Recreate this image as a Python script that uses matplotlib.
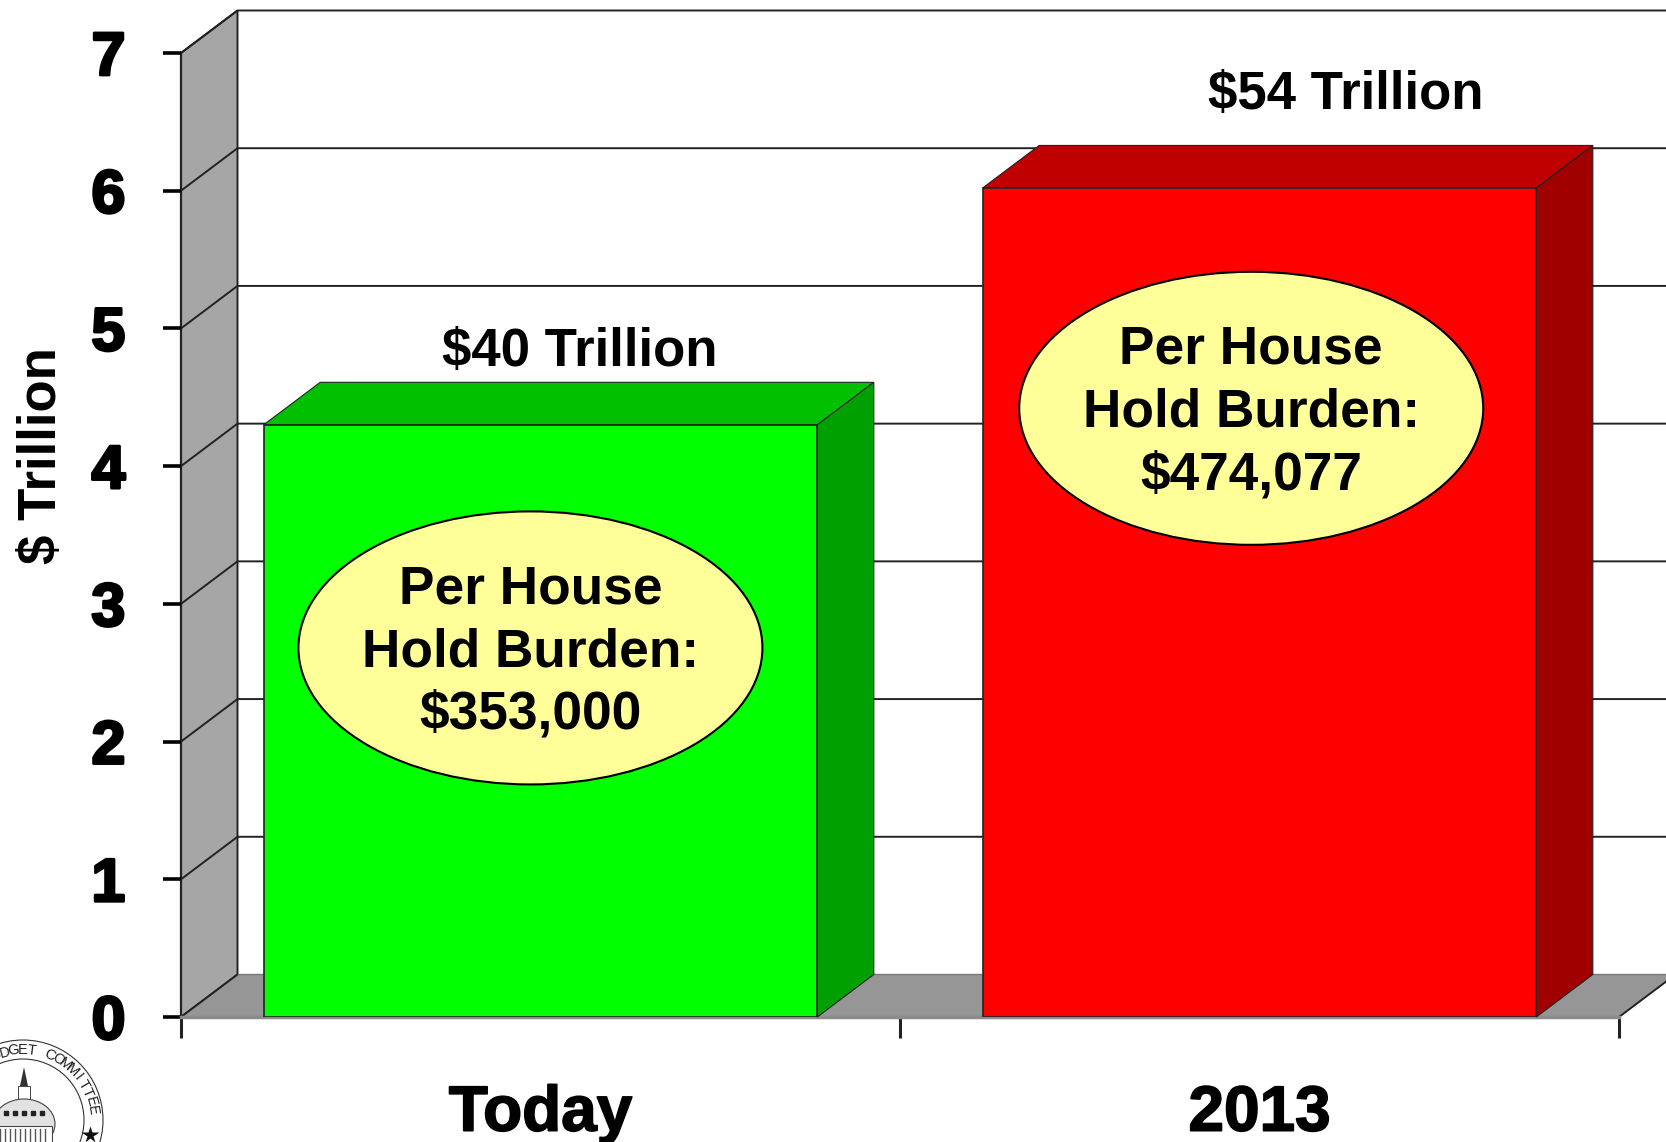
import numpy as np
import matplotlib
matplotlib.use('Agg')
import matplotlib.pyplot as plt
import matplotlib.patheffects as pe
from matplotlib.patches import Polygon, Ellipse, Circle, Rectangle

plt.rcParams['font.family'] = ['Liberation Sans', 'DejaVu Sans']

# chart values
categories = ['Today', '2013']
heights = [4.3, 6.02]
totals = ['$40 Trillion', '$54 Trillion']
burdens = ['$353,000', '$474,077']
y_ticks = [0, 1, 2, 3, 4, 5, 6, 7]
front_cols = ['#00FF00', '#FF0000']
top_cols = ['#00C000', '#C00000']
side_cols = ['#00A000', '#A00000']

W, H = 1666, 1142
x0, x1 = 181, 1619   # px of the axis ends
y0, y1 = 1017, 53
bar_w = 0.77
dx = 56.5 / 719      # 3d depth in data units
dy = 42.5 / 137.7
line = '#222222'

fig = plt.figure(figsize=(W / 100, H / 100), dpi=100)
ax = fig.add_axes([x0 / W, 1 - y0 / H, (x1 - x0) / W, (y0 - y1) / H])
ax.set_xlim(0, 2)
ax.set_ylim(0, 7)
ax.patch.set_visible(False)
for s in ['top', 'right']:
    ax.spines[s].set_visible(False)
ax.spines['left'].set_linewidth(1.6)
ax.spines['left'].set_color(line)
ax.spines['bottom'].set_linewidth(2.5)
ax.spines['bottom'].set_color('#8c8c8c')
ax.spines['left'].set_zorder(1.5)

# ticks and labels
ax.set_yticks(y_ticks)
ax.set_yticklabels([str(t) for t in y_ticks], fontsize=44, fontweight='bold',
                   path_effects=[pe.withStroke(linewidth=2, foreground='black')])
ax.tick_params(axis='y', length=13, width=2.6, color='black', pad=27)
ax.set_xticks([0, 1, 2])
ax.set_xticklabels([])
ax.tick_params(axis='x', which='major', length=15, width=2.2, color='#222222')
ax.xaxis.get_major_ticks()[1].tick1line.set_color('#777777')
ax.set_xticks([0.5, 1.5], minor=True)
ax.set_xticklabels(categories, minor=True, fontsize=46, fontweight='bold',
                   path_effects=[pe.withStroke(linewidth=1.2, foreground='black')])
ax.tick_params(axis='x', which='minor', length=0, pad=48)
ax.set_ylabel('$ Trillion', fontsize=38, fontweight='bold')
ax.yaxis.set_label_coords(-0.079, 0.582)

# side wall and floor
ax.add_patch(Polygon([(0, 0), (dx, dy), (dx, 7 + dy), (0, 7)], fc='#A6A6A6', ec=line,
                     lw=1.4, clip_on=False, zorder=1))
ax.add_patch(Polygon([(0, 0), (dx, dy), (2 + dx, dy), (2, 0)], fc='#969696', ec='none',
                     clip_on=False, zorder=1))
ax.plot([0, dx], [0, dy], color=line, lw=1.4, zorder=1.2, clip_on=False)
ax.plot([2, 2 + dx], [0, dy], color=line, lw=1.4, zorder=1.2, clip_on=False)
ax.plot([dx, 2 + dx], [dy, dy], color='#777777', lw=1, zorder=1.2, clip_on=False)

# grid lines on both walls
for t in y_ticks[1:]:
    ax.plot([0, dx, 2 + dx], [t, t + dy, t + dy], color=line, lw=1.4, zorder=1.1,
            clip_on=False)

# 3d bars
for i, h in enumerate(heights):
    xl = i + 0.5 - bar_w / 2
    xr = i + 0.5 + bar_w / 2
    ax.add_patch(Polygon([(xl, h), (xl + dx, h + dy), (xr + dx, h + dy), (xr, h)],
                         fc=top_cols[i], ec=line, lw=0.8, clip_on=False, zorder=3))
    ax.add_patch(Polygon([(xr, 0), (xr + dx, dy), (xr + dx, h + dy), (xr, h)],
                         fc=side_cols[i], ec=line, lw=0.8, clip_on=False, zorder=3))
    ax.bar(i + 0.5, h, width=bar_w, color=front_cols[i], edgecolor=line, linewidth=1.2,
           zorder=4)

# total labels over the bars
ax.text(0.555, 4.73, totals[0], ha='center', va='baseline', fontsize=38,
        fontweight='bold', zorder=6)
ax.text(1.62, 6.59, totals[1], ha='center', va='baseline', fontsize=38,
        fontweight='bold', zorder=6, clip_on=False)

# ovals with the per household burden
oval_x = [0.486, 1.4885]
oval_y = [2.68, 4.42]
oval_w = 464 / 719
oval_h = 273 / 137.7
for i in range(2):
    ax.add_patch(Ellipse((oval_x[i], oval_y[i]), oval_w, oval_h, fc='#FFFF99', ec='black',
                         lw=1.5, zorder=5))
    ax.text(oval_x[i], oval_y[i] - 0.03, 'Per House\nHold Burden:\n' + burdens[i],
            ha='center', va='center', fontsize=38.3, fontweight='bold', linespacing=1.33,
            zorder=6)

# committee seal in the corner, in pixel coords
sl = fig.add_axes([0, 0, 1, 1], zorder=10)
sl.set_xlim(0, W)
sl.set_ylim(H, 0)
sl.axis('off')
cx, cy = 23, 1120
sl.add_patch(Circle((cx, cy), 80, fc='white', ec='#333333', lw=0.8))
sl.add_patch(Circle((cx, cy), 61, fc='white', ec='#333333', lw=0.8))
seal_text = 'BUDGET COMMITTEE'
angs = np.linspace(-30, 82, len(seal_text))
for ch, a in zip(seal_text, angs):
    r = np.radians(a)
    sl.text(cx + 70 * np.sin(r), cy - 70 * np.cos(r), ch, rotation=-a, ha='center',
            va='center', fontsize=10.5, color='#222222', rotation_mode='anchor')
sl.plot([90], [1135], marker='*', ms=13, color='#111111', mec='none')
# capitol
sl.add_patch(Polygon([(20, 1086), (24, 1067), (28, 1086)], fc='#333333', ec='none'))
sl.add_patch(Rectangle((18, 1086), 12, 14, fc='white', ec='#444444', lw=0.7))
sl.add_patch(Ellipse((24, 1124), 62, 50, fc='#e2e2e2', ec='#444444', lw=0.8))
sl.plot([6, 15, 24, 33, 42], [1113, 1113, 1113, 1113, 1113], ls='none', marker='s', ms=2.5,
        color='#222222')
sl.add_patch(Rectangle((-6, 1126), 58, 18, fc='white', ec='#444444', lw=0.8))
for px in range(0, 50, 5):
    sl.plot([px, px], [1129, 1142], color='#555555', lw=1)

fig.savefig('out.png', dpi=100)
